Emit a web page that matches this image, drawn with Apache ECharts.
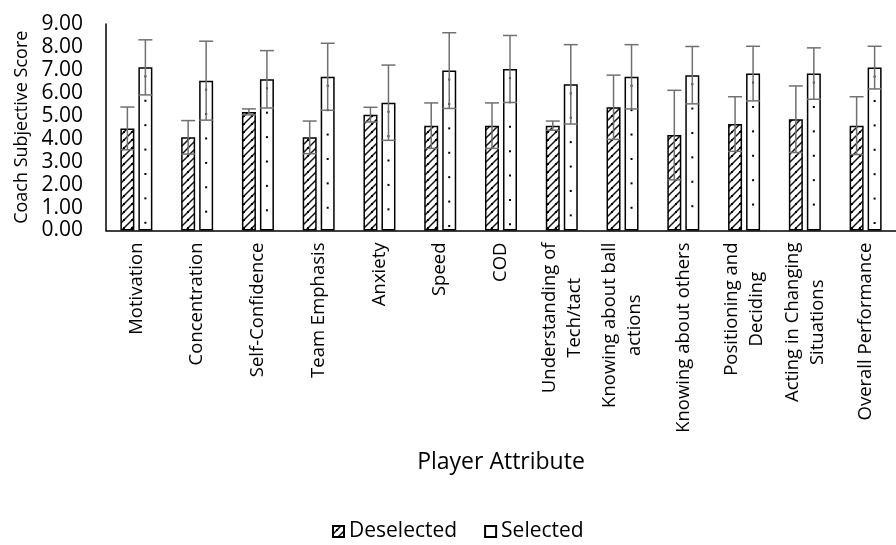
<!DOCTYPE html>
<html>
<head>
<meta charset="utf-8">
<script src="https://cdn.jsdelivr.net/npm/echarts@6/dist/echarts.min.js"></script>
<style>
  html, body { margin: 0; padding: 0; background: #fff; }
  #chart { width: 896px; height: 545px; }
</style>
</head>
<body>
<div id="chart"></div>
<script>
// Player attributes rated by coaches
const categories = [
  'Motivation', 'Concentration', 'Self-Confidence', 'Team Emphasis', 'Anxiety',
  'Speed', 'COD', 'Understanding of\nTech/tact', 'Knowing about ball\nactions',
  'Knowing about others', 'Positioning and\nDeciding', 'Acting in Changing\nSituations',
  'Overall Performance'
];

// Mean scores and standard deviations per group
const deselectedMean = [4.45, 4.06, 5.17, 4.06, 5.05, 4.57, 4.57, 4.57, 5.37, 4.16, 4.64, 4.85, 4.57];
const deselectedSD   = [0.93, 0.73, 0.13, 0.71, 0.32, 0.99, 0.99, 0.20, 1.40, 1.95, 1.19, 1.45, 1.26];
const selectedMean   = [7.11, 6.53, 6.59, 6.70, 5.57, 6.97, 7.04, 6.37, 6.70, 6.77, 6.84, 6.84, 7.10];
const selectedSD     = [1.20, 1.72, 1.25, 1.46, 1.64, 1.65, 1.46, 1.73, 1.40, 1.25, 1.19, 1.12, 0.93];

const yTicks = [0, 1, 2, 3, 4, 5, 6, 7, 8, 9];

const FONT = '"Open Sans", "Noto Sans", sans-serif';
const TEXT = '#000';
const BAR_W = 14;
const HALF_OFFSET = 9; // bar centre distance from category centre

// Diagonal hatch with small dots for the deselected bars
function hatchPattern() {
  const c = document.createElement('canvas');
  c.width = 8; c.height = 8;
  const g = c.getContext('2d');
  g.fillStyle = '#fff';
  g.fillRect(0, 0, 8, 8);
  g.strokeStyle = '#111';
  g.lineWidth = 1.5;
  g.beginPath();
  g.moveTo(-1, 9); g.lineTo(9, -1);
  g.moveTo(-1, 1); g.lineTo(1, -1);
  g.moveTo(7, 9); g.lineTo(9, 7);
  g.stroke();
  g.fillStyle = '#000';
  g.fillRect(3, 3, 2, 2);
  return c;
}

const chart = echarts.init(document.getElementById('chart'), null, { renderer: 'canvas' });

const errDes = deselectedMean.map((m, i) => [i, m, deselectedSD[i]]);
const errSel = selectedMean.map((m, i) => [i, m, selectedSD[i]]);
const dotSel = selectedMean.map((m, i) => [i, m]);

function errorBar(offsetSign) {
  return function (params, api) {
    const i = api.value(0), m = api.value(1), sd = api.value(2);
    const hi = api.coord([i, m + sd]);
    const lo = api.coord([i, m - sd]);
    const x = hi[0] + offsetSign * HALF_OFFSET;
    const half = BAR_W / 2;
    const style = { stroke: '#707070', lineWidth: 1.5 };
    return {
      type: 'group',
      children: [
        { type: 'line', shape: { x1: x, y1: hi[1], x2: x, y2: lo[1] }, style },
        { type: 'line', shape: { x1: x - half, y1: hi[1], x2: x + half, y2: hi[1] }, style },
        { type: 'line', shape: { x1: x - half, y1: lo[1], x2: x + half, y2: lo[1] }, style }
      ]
    };
  };
}

// Column of dots filling the selected bars
function dotColumn(params, api) {
  const i = api.value(0), m = api.value(1);
  const top = api.coord([i, m]);
  const base = api.coord([i, 0]);
  const x = top[0] + HALF_OFFSET;
  const kids = [];
  for (let y = top[1] + 9; y < base[1] - 4; y += 24.4) {
    kids.push({ type: 'rect', shape: { x: x - 1, y: y - 1, width: 2, height: 2 }, style: { fill: '#000' } });
  }
  return { type: 'group', children: kids };
}

chart.setOption({
  animation: false,
  backgroundColor: '#fff',
  textStyle: { fontFamily: FONT, color: TEXT },
  grid: { left: 106, right: -10, top: 24, bottom: 314.5, containLabel: false },
  legend: {
    data: ['Deselected', 'Selected'],
    left: 327,
    top: 516,
    icon: 'rect',
    itemWidth: 11,
    itemHeight: 11,
    itemGap: 27,
    textStyle: { fontFamily: FONT, fontSize: 21, color: TEXT }
  },
  xAxis: {
    type: 'category',
    data: categories,
    name: 'Player Attribute',
    nameLocation: 'middle',
    nameGap: 220,
    nameTextStyle: { fontFamily: FONT, fontSize: 23, color: TEXT },
    axisLine: { lineStyle: { color: '#000', width: 1.5 } },
    axisTick: { show: false },
    axisLabel: {
      interval: 0,
      rotate: 90,
      margin: 12,
      formatter: v => v.split('\n').map(s => '{c|' + s + '}').join('\n'),
      rich: { c: { align: 'center', fontFamily: FONT, fontSize: 18.5, lineHeight: 25, color: TEXT } }
    }
  },
  yAxis: {
    type: 'value',
    min: yTicks[0],
    max: yTicks[yTicks.length - 1],
    interval: 1,
    name: 'Coach Subjective Score',
    nameLocation: 'middle',
    nameGap: 73,
    nameTextStyle: { fontFamily: FONT, fontSize: 18, color: TEXT },
    axisLine: { show: true, lineStyle: { color: '#000', width: 1.5 } },
    axisTick: { show: false },
    splitLine: { show: false },
    axisLabel: {
      margin: 23,
      fontFamily: FONT,
      fontSize: 21,
      color: TEXT,
      formatter: v => v.toFixed(2)
    }
  },
  series: [
    {
      name: 'Deselected',
      type: 'bar',
      data: deselectedMean,
      barWidth: BAR_W,
      barGap: '28.6%',
      itemStyle: { color: { image: hatchPattern(), repeat: 'repeat' }, borderColor: '#000', borderWidth: 1.5 }
    },
    {
      name: 'Selected',
      type: 'bar',
      data: selectedMean,
      barWidth: BAR_W,
      itemStyle: { color: '#fff', borderColor: '#000', borderWidth: 1.5 }
    },
    {
      type: 'custom',
      renderItem: dotColumn,
      data: dotSel,
      z: 3,
      silent: true
    },
    {
      type: 'custom',
      renderItem: errorBar(-1),
      data: errDes,
      z: 4,
      silent: true
    },
    {
      type: 'custom',
      renderItem: errorBar(1),
      data: errSel,
      z: 4,
      silent: true
    }
  ]
});
</script>
</body>
</html>
